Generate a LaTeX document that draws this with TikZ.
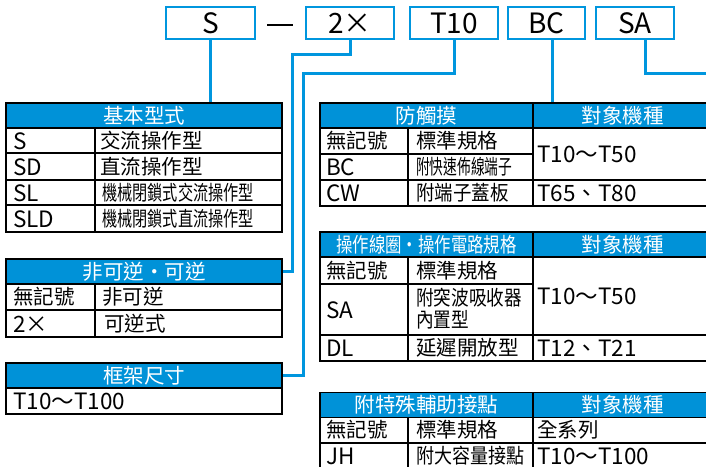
\documentclass[tikz,border=0pt]{standalone}
\usepackage{fontspec}
\usepackage{graphicx}
\setmainfont{Noto Sans CJK TC}
\definecolor{hblue}{RGB}{0,146,216}
\definecolor{lblue}{RGB}{0,150,222}
\begin{document}
\begin{tikzpicture}[x=1pt,y=-1pt,
  topbox/.style={draw=lblue, line width=2.6pt, fill=white, minimum height=32pt, inner sep=0pt, font=\fontsize{28}{28}\selectfont},
  conn/.style={draw=lblue, line width=3pt},
  grid/.style={draw=black, line width=1.1pt},
  hdr/.style={fill=hblue, draw=black, line width=1.1pt, minimum height=25pt, inner sep=0pt, text=white, font=\fontsize{20.5}{20.5}\selectfont},
  btext/.style={font=\fontsize{20.5}{20.5}\selectfont, inner sep=0pt, anchor=west},
  ltext/.style={font=\fontsize{22.5}{22.5}\selectfont, inner sep=0pt, anchor=west},
  dashline/.style={draw=black, line width=2.6pt}]
\useasboundingbox (0,0) rectangle (706,466);
\clip (0,0) rectangle (706,466);
\fill[white] (0,0) rectangle (706,466);

% top code boxes
\node[topbox, minimum width=89pt] (bS) at (210.5,23) {S};
\node[topbox, minimum width=88pt] (b2) at (350,23) {2×};
\node[topbox, minimum width=88pt] (bT) at (454,23) {T10};
\node[topbox, minimum width=77pt] (bB) at (546.5,23) {BC};
\node[topbox, minimum width=78pt] (bA) at (635,23) {SA};
\coordinate (dashL) at (267,25);
\coordinate (dashR) at (293,25);
\draw[dashline] (dashL) -- (dashR);

% ---- left table 1: 基本型式
\node[hdr, minimum width=276pt] (h1) at (144,115.5) {基本型式};
\draw[grid] (6,128) rectangle (282,232);
\draw[grid] (6,153) -- (282,153) (6,180) -- (282,180) (6,205) -- (282,205) (95,128) -- (95,232);
\node[ltext] (t1a) at (13,141) {S};
\node[btext] (t1b) at (100,140.5) {交流操作型};
\node[ltext] (t1c) at (13,167) {SD};
\node[btext] (t1d) at (100,166.5) {直流操作型};
\node[ltext] (t1e) at (13,193) {SL};
\node[btext] (t1f) at (102,192.5) {\scalebox{0.74}[1]{機械閉鎖式交流操作型}};
\node[ltext] (t1g) at (13,219) {SLD};
\node[btext] (t1h) at (102,218.5) {\scalebox{0.74}[1]{機械閉鎖式直流操作型}};

% ---- left table 2: 非可逆・可逆
\node[hdr, minimum width=276pt] (h2) at (144,271.5) {非可逆・可逆};
\draw[grid] (6,284) rectangle (282,337);
\draw[grid] (6,310) -- (282,310) (95,284) -- (95,337);
\node[btext] (t2a) at (13,297) {無記號};
\node[btext] (t2b) at (102,297) {非可逆};
\node[ltext] (t2c) at (13,324) {2×};
\node[btext] (t2d) at (104,323.5) {可逆式};

% ---- left table 3: 框架尺寸
\node[hdr, minimum width=276pt] (h3) at (144,375.5) {框架尺寸};
\draw[grid] (6,388) rectangle (282,414);
\node[ltext] (t3a) at (13,401.5) {T10～T100};

% ---- right table A: 防觸摸
\node[hdr, minimum width=213pt] (hA) at (426.5,115.5) {防觸摸};
\node[hdr, minimum width=179pt] (hAr) at (622.5,115.5) {對象機種};
\draw[grid] (320,128) rectangle (712,206);
\draw[grid] (320,154) -- (533,154) (320,180) -- (712,180) (408,128) -- (408,206) (533,128) -- (533,206);
\node[btext] (tAa) at (326,141) {無記號};
\node[btext] (tAb) at (416,141) {標準規格};
\node[ltext] (tAc) at (326,167.5) {BC};
\node[btext] (tAd) at (416,167) {\scalebox{0.67}[1]{附快速佈線端子}};
\node[ltext] (tAe) at (326,193.5) {CW};
\node[btext] (tAf) at (416,193) {\scalebox{0.9}[1]{附端子蓋板}};
\node[ltext] (tAg) at (537,154.5) {T10～T50};
\node[ltext] (tAh) at (537,193.5) {T65、T80};

% ---- right table B: 操作線圈・操作電路規格
\node[hdr, minimum width=213pt] (hB) at (426.5,244.5) {\scalebox{0.8}[1]{操作線圈・操作電路規格}};
\node[hdr, minimum width=179pt] (hBr) at (622.5,244.5) {對象機種};
\draw[grid] (320,257) rectangle (712,361);
\draw[grid] (320,284) -- (533,284) (320,335) -- (712,335) (408,257) -- (408,361) (533,257) -- (533,361);
\node[btext] (tBa) at (326,270.5) {無記號};
\node[btext] (tBb) at (416,270.5) {標準規格};
\node[ltext] (tBc) at (326,310.5) {SA};
\node[btext] (tBd) at (416,297.5) {\scalebox{0.86}[1]{附突波吸收器}};
\node[btext] (tBe) at (416,320) {\scalebox{0.86}[1]{內置型}};
\node[ltext] (tBf) at (326,348.5) {DL};
\node[btext] (tBg) at (416,348) {延遲開放型};
\node[ltext] (tBh) at (537,296.5) {T10～T50};
\node[ltext] (tBi) at (537,348.5) {T12、T21};

% ---- right table C: 附特殊輔助接點
\node[hdr, minimum width=213pt] (hC) at (426.5,405) {附特殊輔助接點};
\node[hdr, minimum width=179pt] (hCr) at (622.5,405) {對象機種};
\draw[grid] (320,417.5) rectangle (712,472);
\draw[grid] (320,443) -- (712,443) (408,417.5) -- (408,472) (533,417.5) -- (533,472);
\node[btext] (tCa) at (326,430) {無記號};
\node[btext] (tCb) at (416,430) {標準規格};
\node[btext] (tCc) at (537,430) {全系列};
\node[ltext] (tCd) at (326,456.5) {JH};
\node[btext] (tCe) at (416,456) {\scalebox{0.88}[1]{附大容量接點}};
\node[ltext] (tCf) at (537,456.5) {T10～T100};

% ---- connectors
\coordinate (j2) at (292,54);
\coordinate (jT) at (303,73);
\coordinate (jA) at (712,73);
\draw[conn] (bS.south) -- (bS.south |- h1.north);
\draw[conn] (b2.south) |- (j2) |- (h2.east);
\draw[conn] (bT.south) |- (jT) |- (h3.east);
\draw[conn] ([xshift=6pt]bB.south) -- ([xshift=6pt]bB.south |- hAr.north);
\draw[conn] ([xshift=10pt]bA.south) |- (jA);
\end{tikzpicture}
\end{document}
